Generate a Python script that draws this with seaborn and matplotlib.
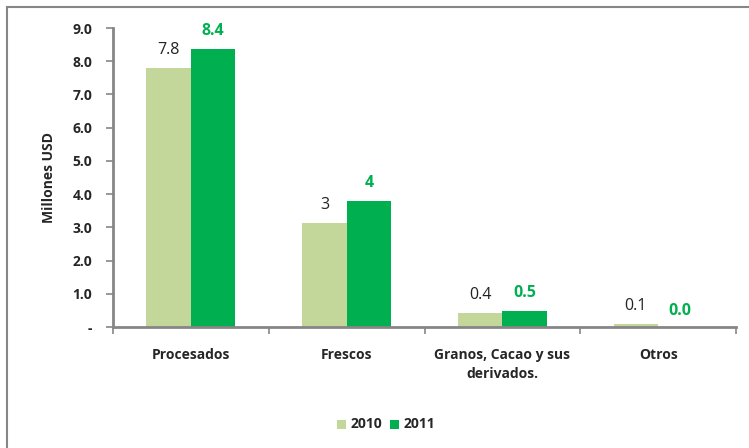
import matplotlib
matplotlib.use("Agg")
import matplotlib.pyplot as plt
import seaborn as sns
import pandas as pd
from matplotlib.patches import Rectangle

categories = ["Procesados", "Frescos", "Granos, Cacao y sus\nderivados.", "Otros"]
values_2010 = [7.8, 3.13, 0.42, 0.09]
values_2011 = [8.37, 3.8, 0.48, 0.0]
labels_2010 = ["7.8", "3", "0.4", "0.1"]
labels_2011 = ["8.4", "4", "0.5", "0.0"]
series = ["2010", "2011"]
yticks = [0, 1, 2, 3, 4, 5, 6, 7, 8, 9]
ytick_labels = ["-", "1.0", "2.0", "3.0", "4.0", "5.0", "6.0", "7.0", "8.0", "9.0"]

c2010 = "#C4D79B"
c2011 = "#00B050"
gray = "#868686"

df = pd.DataFrame({
    "cat": categories * 2,
    "year": [series[0]] * 4 + [series[1]] * 4,
    "val": values_2010 + values_2011,
})

sns.set_style("white")
plt.rcParams["font.family"] = ["Open Sans", "DejaVu Sans"]
BF = 10  # bold font size

fig = plt.figure(figsize=(7.49, 4.48), dpi=100)
W, H = 749, 448
ax = fig.add_axes([113 / W, 1 - 327 / H, (736 - 113) / W, (327 - 28) / H])

sns.barplot(data=df, x="cat", y="val", hue="year", palette=[c2010, c2011],
            width=0.57, gap=0, saturation=1, ax=ax, legend=False)

for p in ax.patches:
    p.set_edgecolor("none")

ax.set_ylim(0, 9)
ax.set_xlim(-0.5, 3.5)
ax.set_yticks(yticks)
ax.set_yticklabels(ytick_labels, fontsize=BF, fontweight="bold")
ax.set_xticks([-0.5, 0.5, 1.5, 2.5, 3.5])
ax.set_xticklabels([])
ax.tick_params(axis="y", length=5, width=1.2, color=gray, direction="out", pad=10, left=True)
ax.tick_params(axis="x", length=5, width=1.2, color=gray, direction="out", bottom=True)
for i, c in enumerate(categories):
    ax.text(i, -0.62, c, ha="center", va="top", fontsize=BF, fontweight="bold",
            linespacing=1.5)

for s in ["top", "right"]:
    ax.spines[s].set_visible(False)
for s in ["left", "bottom"]:
    ax.spines[s].set_color(gray)
    ax.spines[s].set_linewidth(2)

ax.set_xlabel("")
ax.set_ylabel("Millones USD", fontsize=BF, fontweight="bold", labelpad=12)

bw = 0.57 / 2
for i in range(len(categories)):
    ax.text(i - bw / 2, values_2010[i] + 0.3, labels_2010[i], ha="center", va="bottom",
            fontsize=11.5, color="#222222")
    y11 = values_2011[i] + 0.3 if values_2011[i] > 0 else 0.25
    ax.text(i + bw / 2, y11, labels_2011[i], ha="center", va="bottom",
            fontsize=11.5, fontweight="bold", color=c2011)

# legend
lx, ly = 337 / W, 1 - 424 / H
sq = 9
fig.patches.append(Rectangle((lx, ly - sq / 2 / H), sq / W, sq / H, transform=fig.transFigure,
                             facecolor=c2010, edgecolor="none"))
fig.text(lx + 14 / W, ly, "2010", ha="left", va="center", fontsize=BF, fontweight="bold")
lx2 = 390 / W
fig.patches.append(Rectangle((lx2, ly - sq / 2 / H), sq / W, sq / H, transform=fig.transFigure,
                             facecolor=c2011, edgecolor="none"))
fig.text(lx2 + 14 / W, ly, "2011", ha="left", va="center", fontsize=BF, fontweight="bold")

# outer border
fig.patches.append(Rectangle((7 / W, -0.05), 1.0, 1 - 7 / H + 0.05, transform=fig.transFigure,
                             facecolor="none", edgecolor=gray, linewidth=1.5))

fig.savefig("out.png", dpi=100)
